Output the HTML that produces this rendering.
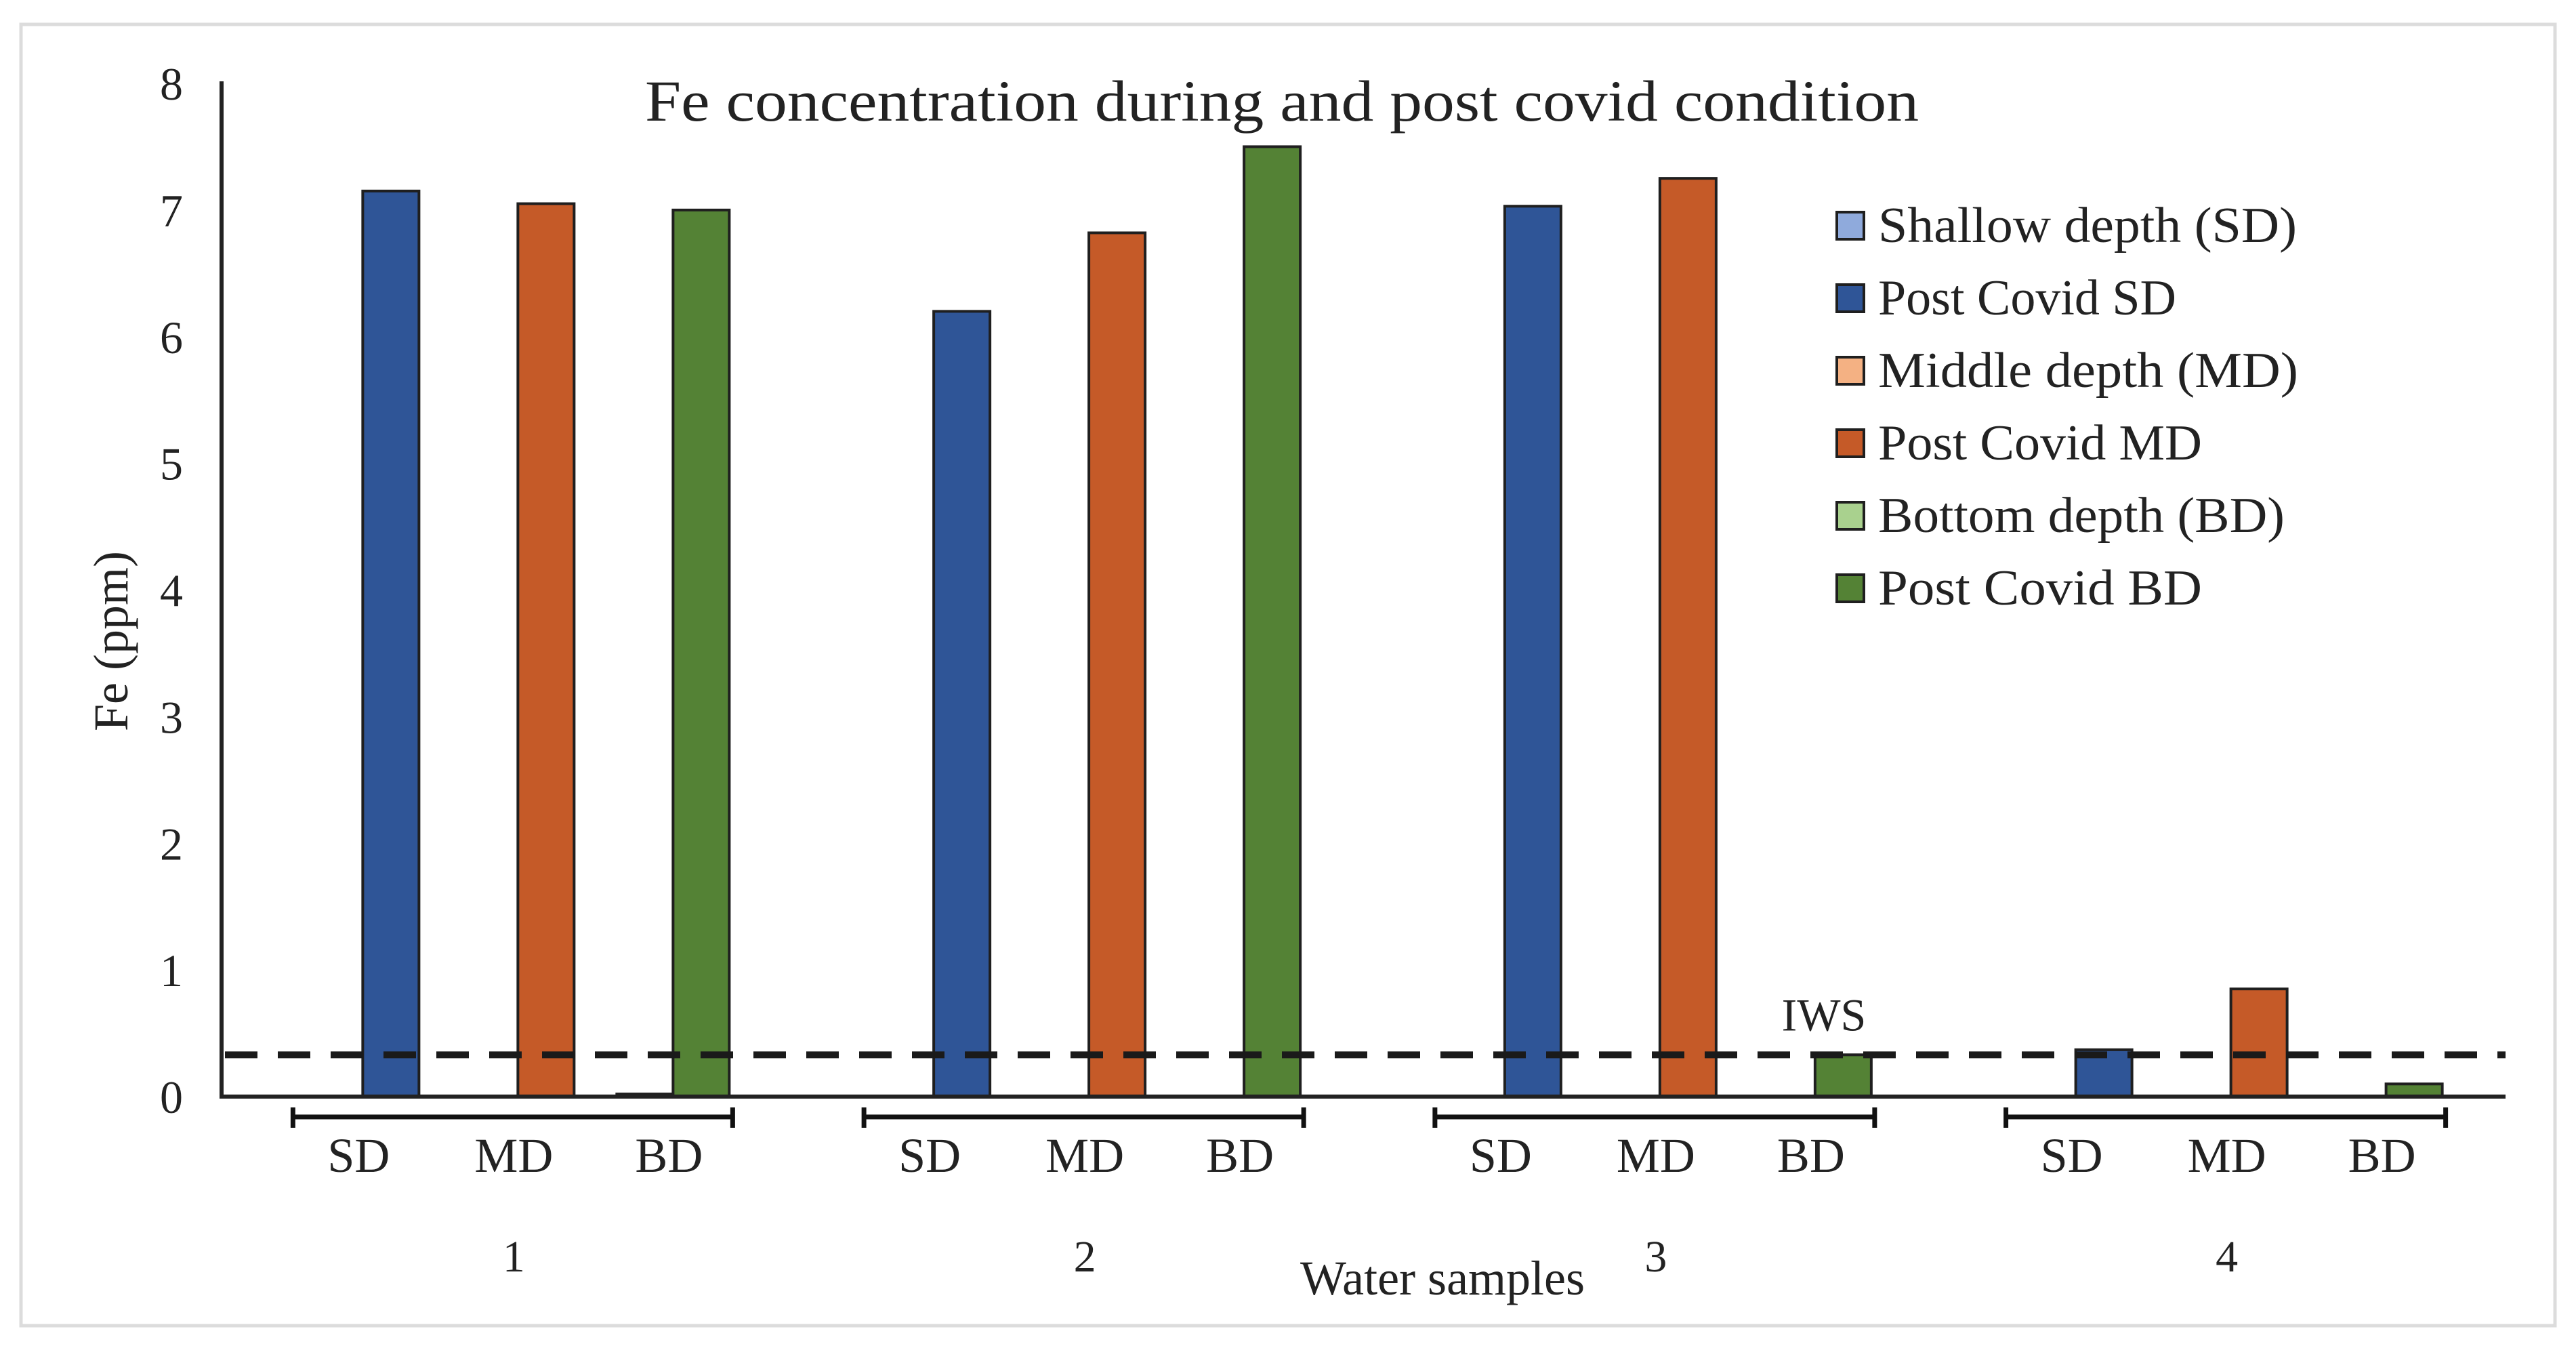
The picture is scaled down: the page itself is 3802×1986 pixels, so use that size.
<!DOCTYPE html>
<html><head><meta charset="utf-8"><style>
html,body{margin:0;padding:0;background:#fff;}
svg{display:block;font-family:"Liberation Serif",serif;}
</style></head><body>
<svg id="chart" width="3802" height="1986" viewBox="0 0 3802 1986" xmlns="http://www.w3.org/2000/svg">
<rect x="31" y="36" width="3740" height="1920" fill="#fff" stroke="#dcdcdc" stroke-width="5"/>
<text x="1892" y="178" font-size="86" text-anchor="middle" textLength="1880" lengthAdjust="spacingAndGlyphs" fill="#222">Fe concentration during and post covid condition</text>
<text transform="translate(188,946) rotate(-90)" font-size="72" text-anchor="middle" fill="#222">Fe (ppm)</text>
<text x="2129" y="1910" font-size="72" text-anchor="middle" fill="#222">Water samples</text>
<g id="yticks"></g>
<g id="bars"></g>
<g id="xcats"></g>
<line x1="327" y1="120" x2="327" y2="1620" stroke="#222" stroke-width="6"/>
<line x1="324" y1="1618" x2="3698" y2="1618" stroke="#222" stroke-width="6"/>
<g id="iws"></g>
<g id="legend"></g>
</svg>
<script>
const groups = ["1","2","3","4"];
const depths = ["SD","MD","BD"];
const yTicks = [0,1,2,3,4,5,6,7,8];
const duringSD = [0,0,0,0];
const postSD = [7.15,6.2,7.03,0.37];
const duringMD = [0,0,0,0];
const postMD = [7.05,6.82,7.25,0.85];
const duringBD = [0.02,0,0,0];
const postBD = [7.0,7.5,0.33,0.1];
const iwsValue = 0.33;
const legendLabels = ["Shallow depth (SD)","Post Covid SD","Middle depth (MD)","Post Covid MD","Bottom depth (BD)","Post Covid BD"];

const NS="http://www.w3.org/2000/svg";
const X0=327, X1=3698, Y0=1618, YTOP=123, YMAX=8;
const y = v => Y0 - (v/YMAX)*(Y0-YTOP);
const gw = (X1-X0)/groups.length;
const gc = i => X0 + gw*(i+0.5) + 16;
const pairOff = 229, bw = 83;
function mk(tag, attrs, parent){const e=document.createElementNS(NS,tag);for(const k in attrs)e.setAttribute(k,attrs[k]);parent.appendChild(e);return e;}

const yt=document.getElementById('yticks');
yTicks.forEach(t=>{
  const e=mk('text',{x:270,y:y(t)+24,'font-size':68,'text-anchor':'end',fill:'#222'},yt);
  
  
  e.textContent=t;
});

const series=[
 {d:duringSD,fill:'#8FAADC',p:0,side:-1},{d:postSD,fill:'#2F5597',p:0,side:1},
 {d:duringMD,fill:'#F4B183',p:1,side:-1},{d:postMD,fill:'#C55A28',p:1,side:1},
 {d:duringBD,fill:'#A9D18E',p:2,side:-1},{d:postBD,fill:'#548235',p:2,side:1}];
const bars=document.getElementById('bars');
series.forEach((s,si)=>{
  s.d.forEach((v,i)=>{
    const c=gc(i)+(s.p-1)*pairOff;
    const x=s.side<0?c-bw:c;
    const h=Math.max(Y0-y(v),0);
    const r=mk('rect',{x:x,y:y(v),width:bw,height:h,fill:s.fill,stroke:'#1f1f1f','stroke-width':h>0?4:0},bars);
    
    
  });
});

const xc=document.getElementById('xcats');
groups.forEach((g,i)=>{
  const c=gc(i);
  const l=c-332, r=c+317;
  const br=mk('path',{d:`M${l},1648 H${r} M${l},1634 V1664 M${r},1634 V1664`,stroke:'#111','stroke-width':7,fill:'none'},xc);
  
  
  depths.forEach((d,j)=>{
    const t=mk('text',{x:c+(j-1)*pairOff-6,y:1729,'font-size':72,'text-anchor':'middle',fill:'#222'},xc);
    
    
    t.textContent=d;
  });
  const t=mk('text',{x:c-6,y:1876,'font-size':66,'text-anchor':'middle',fill:'#222'},xc);
  
  
  t.textContent=g;
});

const iws=document.getElementById('iws');
const ln=mk('line',{x1:X0+5,y1:y(iwsValue),x2:X1,y2:y(iwsValue),stroke:'#1a1a1a','stroke-width':10,'stroke-dasharray':'48 30'},iws);


const it=mk('text',{x:2692,y:y(iwsValue)-36,'font-size':68,'text-anchor':'middle',fill:'#222'},iws);


it.textContent='IWS';

const lg=document.getElementById('legend');
const lfills=['#8FAADC','#2F5597','#F4B183','#C55A28','#A9D18E','#548235'];
const lwidths=[618,440,620,478,600,478];
legendLabels.forEach((lab,i)=>{
  const cy=333+i*107;
  const sw=mk('rect',{x:2711,y:cy-20,width:40,height:40,fill:lfills[i],stroke:'#1f1f1f','stroke-width':4},lg);
  
  
  const t=mk('text',{x:2772,y:cy+24,'font-size':74,fill:'#222',textLength:lwidths[i],lengthAdjust:'spacingAndGlyphs'},lg);
  
  
  t.textContent=lab;
});
</script>
</body></html>
